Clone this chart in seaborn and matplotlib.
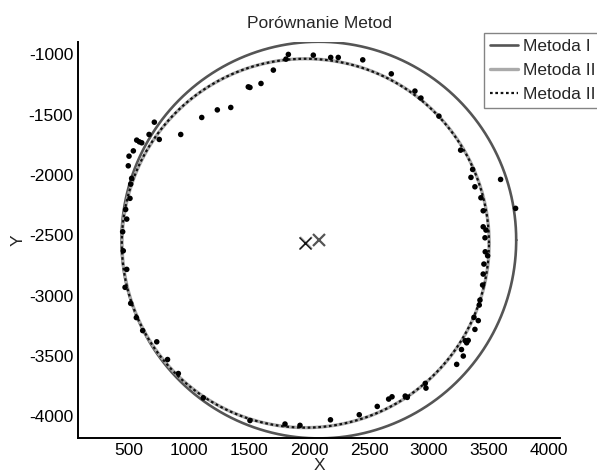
import numpy as np
import pandas as pd
import matplotlib
matplotlib.use("Agg")
import matplotlib.pyplot as plt
import seaborn as sns

pts_x = [1703, 1600, 1494, 1508, 1348, 1236, 1106, 931, 711, 667, 752, 564, 586, 606,
         536, 500, 494, 1828, 1808, 2036, 2181, 2244, 2448, 2686, 2883, 2933, 3083, 3264,
         522, 514, 508, 472, 481, 447, 452, 481, 467, 514, 561, 614, 731, 821, 911, 1119,
         1508, 1800, 1925, 2179, 2419, 2569, 2664, 2692, 2802, 2819, 2969, 2975, 3231,
         3286, 3271, 3302, 3327, 3314, 3383, 3411, 3375, 3425, 3419, 3447, 3452, 3458,
         3489, 3469, 3467, 3475, 3452, 3452, 3433, 3383, 3350, 3364, 3597, 3722]
pts_y = [-1130, -1241, -1269, -1274, -1440, -1460, -1523, -1664, -1562, -1664, -1705,
         -1711, -1725, -1733, -1800, -1844, -1924, -1000, -1039, -1006, -1025, -1025,
         -1045, -1161, -1304, -1362, -1512, -1794, -2028, -2076, -2194, -2286, -2366,
         -2471, -2629, -2783, -2932, -3065, -3183, -3291, -3384, -3531, -3647, -3849,
         -4037, -4066, -4077, -4031, -3989, -3920, -3859, -3840, -3834, -3845, -3729,
         -3768, -3571, -3502, -3448, -3375, -3372, -3392, -3281, -3208, -3181, -3038,
         -3079, -2913, -2822, -2739, -2670, -2637, -2521, -2457, -2430, -2297, -2189,
         -2098, -2020, -1954, -2037, -2277]

# fitted circles: name, centre x, centre y, radius
methods = ["Metoda I", "Metoda II", "Metoda III"]
center_x = [2082, 1972, 1970]
center_y = [-2540, -2566, -2566]
radius = [1645, 1530, 1530]

x_ticks = [500, 1000, 1500, 2000, 2500, 3000, 3500, 4000]
y_ticks = [-1000, -1500, -2000, -2500, -3000, -3500, -4000]

sns.set_style("white")
plt.rcParams["font.family"] = ["Liberation Sans", "DejaVu Sans"]
plt.rcParams["axes.unicode_minus"] = False

fig = plt.figure(figsize=(5.97, 4.72), dpi=100)
ax = fig.add_axes([0.1307, 0.072, 0.8073, 0.8395])

styles = [
    dict(color="#555555", lw=1.9, ls="-"),
    dict(color="#aaaaaa", lw=2.4, ls="-"),
    dict(color="#111111", lw=1.6, ls=(0, (1.2, 1.2))),
]
theta = np.linspace(0, 2 * np.pi, 400)
handles = []
for name, cx, cy, r, st in zip(methods, center_x, center_y, radius, styles):
    h, = ax.plot(cx + r * np.cos(theta), cy + r * np.sin(theta), **st)
    handles.append(h)

# centres
ax.plot(center_x[0], center_y[0], "x", color="#555555", ms=9, mew=1.6)
ax.plot(center_x[1], center_y[1], "x", color="#aaaaaa", ms=9, mew=1.6)
ax.plot(center_x[2], center_y[2], "x", color="#111111", ms=9, mew=1.0)

df = pd.DataFrame({"x": pts_x, "y": pts_y})
sns.scatterplot(data=df, x="x", y="y", color="black", s=16, edgecolor="none",
                ax=ax, zorder=5, legend=False)

ax.set_xlim(75, 4092)
ax.set_ylim(-4182, -895)
ax.set_xticks(x_ticks)
ax.set_yticks(y_ticks)
ax.tick_params(direction="in", length=5, width=1.2, labelsize=12.5, colors="black")
for side in ["top", "right"]:
    ax.spines[side].set_visible(False)
for side in ["left", "bottom"]:
    ax.spines[side].set_color("black")
    ax.spines[side].set_linewidth(1.4)

ax.set_title("Porównanie Metod", fontsize=12.5, pad=10)
ax.set_xlabel("X", fontsize=12.5, labelpad=0)
ax.set_ylabel("Y", fontsize=12.5, labelpad=2)

leg = fig.legend(handles=handles, labels=methods, loc="upper left",
                 bbox_to_anchor=(0.8107, 0.93), borderaxespad=0, fontsize=12.5,
                 frameon=True, fancybox=False, edgecolor="#666666", handlelength=1.6,
                 handletextpad=0.3, borderpad=0.35, labelspacing=0.5)
leg.get_frame().set_linewidth(1.0)

fig.savefig("out.png", dpi=100)
